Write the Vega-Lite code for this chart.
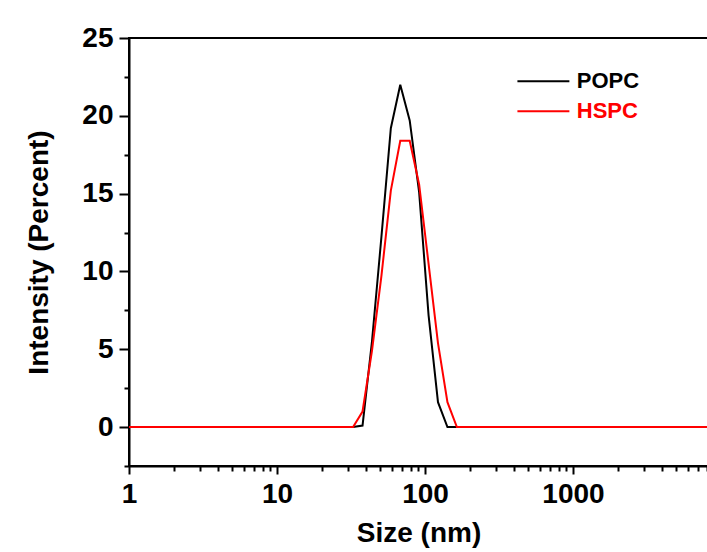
{
  "$schema": "https://vega.github.io/schema/vega-lite/v6.json",
  "width": 579,
  "height": 428,
  "autosize": {"type": "none"},
  "padding": {"left": 129, "top": 38, "right": 0, "bottom": 86},
  "background": "white",
  "config": {
    "view": {"stroke": "black", "strokeWidth": 2},
    "font": "Liberation Sans",
    "axis": {
      "domainColor": "black", "tickColor": "black", "domainWidth": 2, "tickWidth": 2,
      "grid": false, "labelColor": "black", "titleColor": "black",
      "labelFont": "Liberation Sans", "titleFont": "Liberation Sans",
      "labelFontWeight": "bold", "titleFontWeight": "bold"
    }
  },
  "data": {
    "values": [
      {"s": "POPC", "x": 1, "y": 0},
      {"s": "POPC", "x": 32.67, "y": 0},
      {"s": "POPC", "x": 37.84, "y": 0.1},
      {"s": "POPC", "x": 43.82, "y": 5.5},
      {"s": "POPC", "x": 50.75, "y": 12.2},
      {"s": "POPC", "x": 58.77, "y": 19.2},
      {"s": "POPC", "x": 68.06, "y": 22.0},
      {"s": "POPC", "x": 78.82, "y": 19.7},
      {"s": "POPC", "x": 91.28, "y": 15.1},
      {"s": "POPC", "x": 105.7, "y": 7.2},
      {"s": "POPC", "x": 122.4, "y": 1.6},
      {"s": "POPC", "x": 141.8, "y": 0},
      {"s": "POPC", "x": 164.2, "y": 0},
      {"s": "POPC", "x": 10000, "y": 0},
      {"s": "HSPC", "x": 1, "y": 0},
      {"s": "HSPC", "x": 32.67, "y": 0},
      {"s": "HSPC", "x": 37.84, "y": 1.0},
      {"s": "HSPC", "x": 43.82, "y": 4.9},
      {"s": "HSPC", "x": 50.75, "y": 9.7},
      {"s": "HSPC", "x": 58.77, "y": 15.2},
      {"s": "HSPC", "x": 68.06, "y": 18.4},
      {"s": "HSPC", "x": 78.82, "y": 18.4},
      {"s": "HSPC", "x": 91.28, "y": 15.6},
      {"s": "HSPC", "x": 105.7, "y": 10.5},
      {"s": "HSPC", "x": 122.4, "y": 5.4},
      {"s": "HSPC", "x": 141.8, "y": 1.6},
      {"s": "HSPC", "x": 164.2, "y": 0},
      {"s": "HSPC", "x": 10000, "y": 0}
    ]
  },
  "layer": [
    {
      "mark": {"type": "line", "opacity": 0, "clip": true},
      "encoding": {
        "x": {"field": "x", "type": "quantitative",
          "scale": {"type": "log", "domain": [1, 8170], "nice": false},
          "axis": {"orient": "bottom", "values": [2,3,4,5,6,7,8,9,20,30,40,50,60,70,80,90,200,300,400,500,600,700,800,900,2000,3000,4000,5000,6000,7000,8000],
            "tickSize": 5, "labels": false, "domain": false, "title": null}},
        "y": {"field": "y", "type": "quantitative",
          "scale": {"domain": [-2.5, 25], "nice": false, "zero": false},
          "axis": {"orient": "left", "values": [-2.5, 2.5, 7.5, 12.5, 17.5, 22.5],
            "tickSize": 5, "labels": false, "domain": false, "title": null}},
        "detail": {"field": "s", "type": "nominal"}
      }
    },
    {
      "mark": {"type": "line", "strokeWidth": 2, "clip": true},
      "encoding": {
        "x": {"field": "x", "type": "quantitative",
          "scale": {"type": "log", "domain": [1, 8170], "nice": false},
          "axis": {"orient": "bottom", "values": [1, 10, 100, 1000], "format": "d",
            "tickSize": 8, "labelFontSize": 28, "labelPadding": 6, "labelFlush": false, "labelOverlap": false,
            "title": "Size (nm)", "titleFontSize": 28, "titlePadding": 11}},
        "y": {"field": "y", "type": "quantitative",
          "scale": {"domain": [-2.5, 25], "nice": false, "zero": false},
          "axis": {"orient": "left", "values": [0, 5, 10, 15, 20, 25],
            "tickSize": 10, "labelFontSize": 28, "labelPadding": 6, "labelFlush": false, "labelOverlap": false,
            "title": "Intensity (Percent)", "titleFontSize": 28, "titlePadding": 28}},
        "color": {"field": "s", "type": "nominal",
          "scale": {"domain": ["POPC", "HSPC"], "range": ["#000000", "#ff0000"]},
          "legend": {"orient": "none", "legendX": 403.4, "legendY": 32.2, "title": null,
            "symbolType": "M-3,0H3", "symbolSize": 300, "symbolStrokeWidth": 2, "symbolFillColor": "transparent",
            "labelFontSize": 22, "labelFont": "Liberation Sans", "labelFontWeight": "bold",
            "labelOffset": 22.4, "padding": 0, "rowPadding": 8,
            "encode": {"labels": {"update": {"fill": {"signal": "datum.value === 'HSPC' ? '#ff0000' : '#000000'"}}}}}}
      }
    }
  ],
  "resolve": {"axis": {"x": "independent", "y": "independent"}}
}
